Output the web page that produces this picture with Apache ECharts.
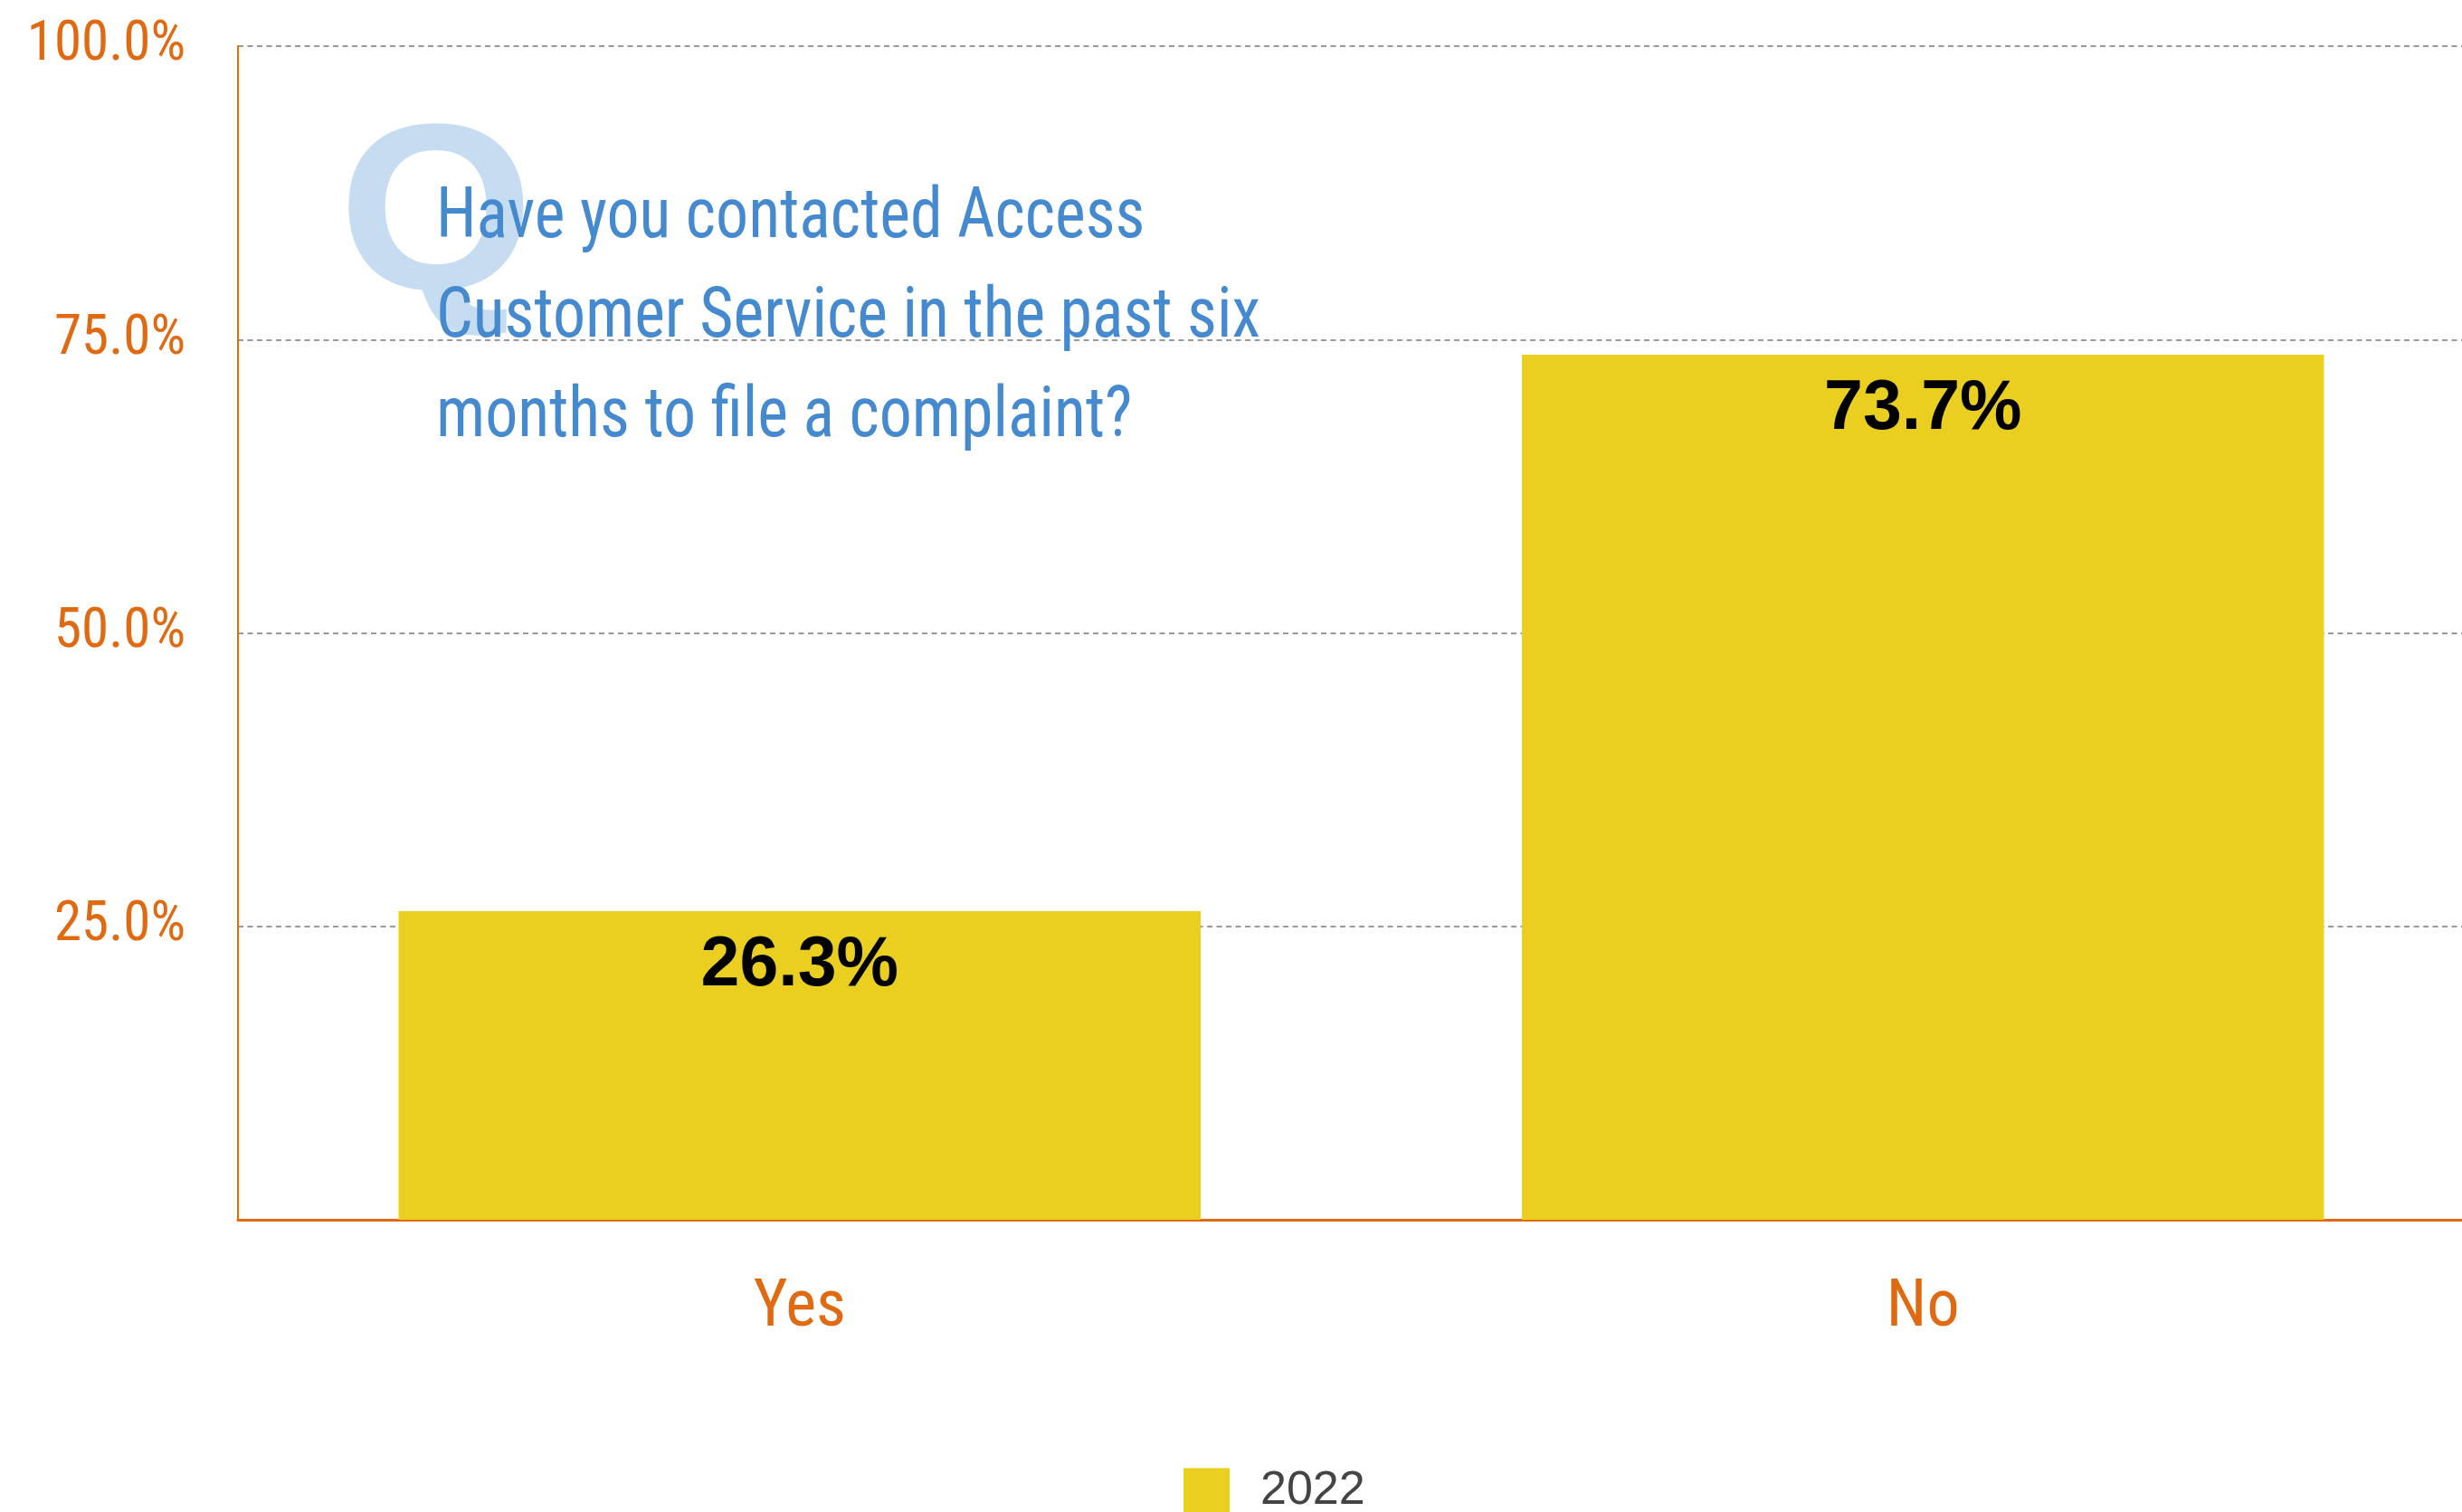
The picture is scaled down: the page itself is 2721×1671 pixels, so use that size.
<!DOCTYPE html>
<html>
<head>
<meta charset="utf-8">
<title>Complaints to Access Customer Service</title>
<script src="https://cdn.jsdelivr.net/npm/echarts@6/dist/echarts.min.js"></script>
<style>
  html, body { margin: 0; padding: 0; background: #ffffff; }
  #chart { width: 2721px; height: 1671px; }
</style>
</head>
<body>
<div id="chart"></div>
<script>
// Survey answers and shares of respondents (%)
const categories = ['Yes', 'No'];
const values2022 = [26.3, 73.7];
const seriesName = '2022';
const questionLines = [
  'Have you contacted Access',
  'Customer Service in the past six',
  'months to file a complaint?'
];

const ORANGE = '#E06A12';
const CONDENSED = '"Roboto Condensed", "Open Sans", sans-serif';

const chart = echarts.init(document.getElementById('chart'), null, { renderer: 'canvas' });

chart.setOption({
  animation: false,
  backgroundColor: '#ffffff',
  grid: {
    left: 263, top: 51, width: 2483, height: 1297,
    containLabel: false,
    outerBoundsMode: 'none'
  },
  legend: {
    data: [seriesName],
    left: 1308,
    top: 1622,
    padding: 0,
    itemWidth: 51,
    itemHeight: 51,
    icon: 'rect',
    textStyle: {
      fontFamily: '"Liberation Sans", Arial, sans-serif',
      fontSize: 52,
      color: '#444444',
      padding: [0, 0, 0, 29]
    }
  },
  xAxis: {
    type: 'category',
    data: categories,
    axisLine: { show: true, lineStyle: { color: ORANGE, width: 3 } },
    axisTick: { show: false },
    axisLabel: {
      color: ORANGE,
      fontFamily: CONDENSED,
      fontSize: 72,
      margin: 63
    },
    splitLine: { show: false }
  },
  yAxis: {
    type: 'value',
    min: 0,
    max: 100,
    interval: 25,
    axisLine: { show: true, lineStyle: { color: ORANGE, width: 2 } },
    axisTick: { show: false },
    axisLabel: {
      showMinLabel: false,
      color: ORANGE,
      fontFamily: CONDENSED,
      fontSize: 61,
      margin: 58,
      formatter: v => v.toFixed(1) + '%'
    },
    splitLine: {
      show: true,
      lineStyle: { color: '#999999', width: 2, type: [6, 4.5] }
    }
  },
  graphic: [
    {
      type: 'text',
      z: 1,
      x: 374,
      y: 116,
      scaleX: 1.06,
      style: {
        text: 'Q',
        font: 'bold 262px "Liberation Sans", Arial, sans-serif',
        fill: '#C6DCF0',
        verticalAlign: 'top'
      }
    },
    {
      type: 'text',
      z: 2,
      x: 482,
      y: 187,
      scaleX: 0.922,
      style: {
        text: questionLines.join('\n'),
        font: '78px ' + CONDENSED,
        lineHeight: 110,
        fill: '#4589CF',
        verticalAlign: 'top'
      }
    }
  ],
  series: [
    {
      name: seriesName,
      type: 'bar',
      data: values2022,
      barWidth: '71.4%',
      itemStyle: { color: '#EBCF20' },
      label: {
        show: true,
        position: 'insideTop',
        distance: 22,
        color: '#000000',
        fontFamily: '"Liberation Sans", Arial, sans-serif',
        fontWeight: 'bold',
        fontSize: 77,
        formatter: p => p.value.toFixed(1) + '%'
      }
    }
  ]
});
</script>
</body>
</html>
